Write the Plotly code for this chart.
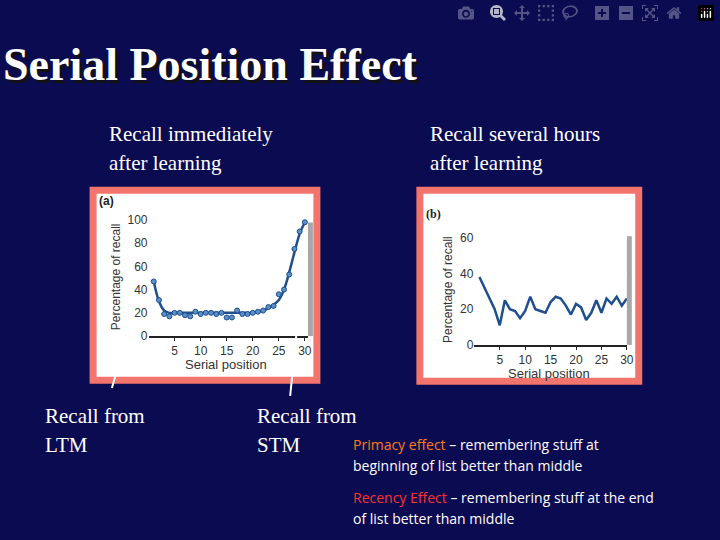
import plotly.graph_objects as go

W, H = 720, 540

# Panel (a): recall immediately after learning
pos = list(range(1, 31))
recall_now = [47, 31, 19, 17, 20, 20, 18, 17, 21, 19, 20, 20, 19, 20, 16,
              16, 22, 19, 19, 20, 21, 22, 25, 26, 36, 40, 53, 75, 90, 98]
curve_now = [47, 30, 22, 20, 20, 20, 20, 20, 20, 20, 20, 20, 20, 20, 20,
             20, 20, 20, 20, 20, 21, 22, 24, 27, 31, 40, 55, 72, 88, 98]
# Panel (b): recall several hours later
recall_later = [38, 32, 26, 20, 11, 25, 20, 19, 15, 19, 27, 20, 19, 18, 24,
                27, 26, 22, 17, 23, 21, 14, 18, 25, 18, 26, 23, 27, 22, 26]

BG = '#0b0b52'
LINE = '#1f4f8f'
SALMON = '#f2746c'


def px(x):
    return x / W


def py(y):
    return 1 - y / H


fig = go.Figure()

fig.add_trace(go.Scatter(x=pos, y=curve_now, mode='lines', line=dict(color=LINE, width=2.5, shape='spline'),
                         xaxis='x', yaxis='y', hoverinfo='skip'))
fig.add_trace(go.Scatter(x=pos, y=recall_now, mode='markers',
                         marker=dict(color='#5a8fc8', size=5, line=dict(color=LINE, width=1)),
                         xaxis='x', yaxis='y'))
fig.add_trace(go.Scatter(x=pos, y=recall_later, mode='lines', line=dict(color=LINE, width=2.5),
                         xaxis='x2', yaxis='y2'))

axfont = dict(family='Liberation Sans', size=12, color='#333')
common = dict(showgrid=False, zeroline=False, showline=True, linecolor='#222', linewidth=1.5,
              ticks='outside', ticklen=3, tickcolor='#222', tickfont=axfont)
ycommon = dict(showgrid=True, gridcolor='white', gridwidth=2, zeroline=False, showline=False,
               tickfont=axfont)

shapes = [
    dict(type='rect', xref='paper', yref='paper', x0=px(94), x1=px(320), y0=py(384), y1=py(190),
         fillcolor='white', line=dict(color=SALMON, width=7), layer='below'),
    dict(type='rect', xref='paper', yref='paper', x0=px(424), x1=px(645), y0=py(385), y1=py(190),
         fillcolor='white', line=dict(color=SALMON, width=7), layer='below'),
    dict(type='rect', xref='paper', yref='paper', x0=px(311), x1=px(316), y0=py(339), y1=py(223),
         fillcolor='#a8a8a8', line=dict(width=0), layer='below'),
    dict(type='rect', xref='paper', yref='paper', x0=px(633), x1=px(638), y0=py(348), y1=py(237),
         fillcolor='#a8a8a8', line=dict(width=0), layer='below'),
    # pointer lines
    dict(type='line', xref='paper', yref='paper', x0=px(113), y0=py(392), x1=px(117), y1=py(378),
         line=dict(color='white', width=2)),
    dict(type='line', xref='paper', yref='paper', x0=px(293), y0=py(400), x1=px(306), y1=py(270),
         line=dict(color='white', width=2)),
    dict(type='line', xref='paper', yref='paper', x0=px(517), y0=py(255), x1=px(490), y1=py(282),
         line=dict(color='white', width=2)),
]

ann = []


def text(x, y, s, size, color='white', family='Liberation Serif', anchor='left'):
    ann.append(dict(x=px(x), y=py(y), xref='paper', yref='paper', text=s, showarrow=False,
                    xanchor=anchor, yanchor='middle', align='left',
                    font=dict(family=family, size=size, color=color)))


text(4, 65, '<b>Serial Position Effect</b>', 46, color='#111')
text(1, 62, '<b>Serial Position Effect</b>', 46)
text(108, 133, 'Recall immediately', 21)
text(108, 162, 'after learning', 21)
text(432, 133, 'Recall several hours', 21)
text(432, 162, 'after learning', 21)
text(43, 421, 'Recall from', 21)
text(43, 450, 'LTM', 21)
text(258, 421, 'Recall from', 21)
text(258, 450, 'STM', 21)
sans = 'Open Sans'
text(354, 450, '<span style="color:#ff7a1a">Primacy effect</span> – remembering stuff at', 14, family=sans)
text(354, 471, 'beginning of list better than middle', 14, family=sans)
text(354, 504, '<span style="color:#ff3030">Recency Effect</span> – remembering stuff at the end', 14, family=sans)
text(354, 525, 'of list better than middle', 14, family=sans)
text(98, 201, '<b>(a)</b>', 12, color='#222', family='Liberation Sans')
text(428, 214, '<b>(b)</b>', 12, color='#222', family='Liberation Serif')
text(185, 368, 'Serial position', 13, color='#333', family='Liberation Sans')
text(511, 377, 'Serial position', 13, color='#333', family='Liberation Sans')

fig.update_layout(
    width=W, height=H, margin=dict(l=0, r=0, t=0, b=0),
    paper_bgcolor=BG, plot_bgcolor='#cfe7da', showlegend=False,
    xaxis=dict(domain=[px(150), px(311)], range=[0, 30.6], tickvals=[5, 10, 15, 20, 25, 30], **common),
    yaxis=dict(domain=[py(339), py(218)], range=[0, 102], tickvals=[0, 20, 40, 60, 80, 100],
               title=dict(text='Percentage of recall', font=axfont, standoff=4), **ycommon),
    xaxis2=dict(domain=[px(479), px(633)], range=[0, 30], tickvals=[5, 10, 15, 20, 25, 30],
                anchor='y2', **common),
    yaxis2=dict(domain=[py(348), py(235)], range=[0, 62], tickvals=[0, 20, 40, 60], anchor='x2',
                title=dict(text='Percentage of recall', font=axfont, standoff=4), **ycommon),
    shapes=shapes, annotations=ann,
)

fig.write_html('out.html', post_script="document.body.style.margin='0';document.body.style.overflow='hidden';")
